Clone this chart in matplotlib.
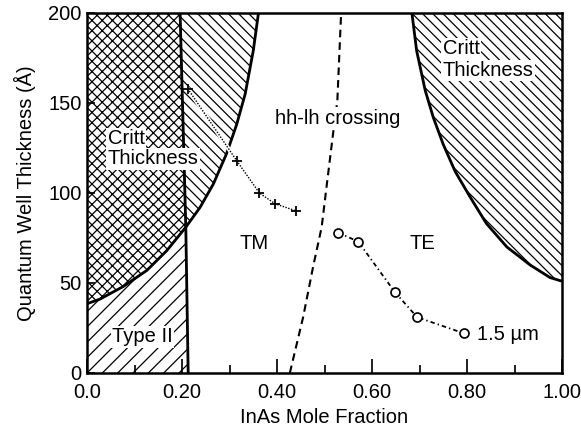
import matplotlib
matplotlib.use("Agg")
import matplotlib.pyplot as plt

DPI = 92


def px(v):
    """Convert a size in output pixels to points."""
    return v * 72.0 / DPI


plt.rcParams['font.family'] = ['Liberation Sans', 'DejaVu Sans']
plt.rcParams['hatch.linewidth'] = px(1.25)
plt.rcParams['lines.scale_dashes'] = False

# Critical thickness, tensile side (In-poor)
left_crit_x = [0.0, 0.027, 0.076, 0.126, 0.168, 0.208, 0.238, 0.266, 0.294, 0.315, 0.333, 0.350, 0.361]
left_crit_y = [38.5, 41, 48, 57, 68, 81, 92, 105, 122, 138, 155, 179, 200]

# Type II / critical-thickness boundary line
boundary_x = [0.196, 0.208, 0.213]
boundary_y = [200, 81, 0]

# Critical thickness, compressive side (In-rich)
right_crit_x = [0.684, 0.694, 0.712, 0.729, 0.750, 0.775, 0.806, 0.841, 0.884, 0.933, 0.975, 1.0]
right_crit_y = [200, 179, 157, 142, 127, 112, 98, 83, 70, 60, 53, 51]

# Heavy-hole / light-hole crossing
hhlh_x = [0.427, 0.455, 0.476, 0.494, 0.505, 0.519, 0.527, 0.535]
hhlh_y = [0, 31, 59, 81, 105, 135, 151, 200]

# 1.5 um designs, TM side (+) and TE side (o)
tm_x = [0.212, 0.315, 0.363, 0.396, 0.441]
tm_y = [158, 118, 100, 94, 90]
te_x = [0.529, 0.571, 0.648, 0.695, 0.794]
te_y = [78, 73, 45, 31, 22]

x_ticks = [0.0, 0.2, 0.4, 0.6, 0.8, 1.0]
x_ticklabels = ['0.0', '0.20', '0.40', '0.60', '0.80', '1.00']
y_ticks = [0, 50, 100, 150, 200]

fig = plt.figure(figsize=(581 / DPI, 430 / DPI), dpi=DPI)
ax = fig.add_axes([87 / 581, 1 - 373 / 430, 475 / 581, 360 / 430])
ax.set_xlim(0, 1)
ax.set_ylim(0, 200)

# junction of the boundary line with the tensile critical-thickness curve
j = left_crit_x.index(boundary_x[1])

# cross-hatched critical-thickness region left of the boundary
cross_x = [0.0, boundary_x[0]] + left_crit_x[j::-1]
cross_y = [200, boundary_y[0]] + left_crit_y[j::-1]
ax.fill(cross_x, cross_y, facecolor='white', edgecolor='black', hatch='xxx', linewidth=0, zorder=1)

# single-hatched critical-thickness region right of the boundary
lh_x = [boundary_x[0]] + left_crit_x[:j - 1:-1]
lh_y = [boundary_y[0]] + left_crit_y[:j - 1:-1]
ax.fill(lh_x, lh_y, facecolor='white', edgecolor='black', hatch='\\' * 3, linewidth=0, zorder=1)

# Type II region
t2_x = [0.0, boundary_x[2], boundary_x[1]] + left_crit_x[j - 1::-1]
t2_y = [0, boundary_y[2], boundary_y[1]] + left_crit_y[j - 1::-1]
ax.fill(t2_x, t2_y, facecolor='white', edgecolor='black', hatch='//', linewidth=0, zorder=1)

# compressive critical-thickness region
rc_x = right_crit_x + [1.0]
rc_y = right_crit_y + [200]
ax.fill(rc_x, rc_y, facecolor='white', edgecolor='black', hatch='\\' * 3, linewidth=0, zorder=1)

# boundary curves
for cx, cy in [(left_crit_x, left_crit_y), (right_crit_x, right_crit_y), (boundary_x, boundary_y)]:
    ax.plot(cx, cy, color='black', lw=px(2.8), zorder=3, solid_capstyle='butt')

# hh-lh crossing
ax.plot(hhlh_x, hhlh_y, color='black', lw=px(2.1), linestyle=(0, (px(7.6), px(5.0))), zorder=3)

# TM design points
ax.plot(tm_x, tm_y, color='white', lw=px(4.2), zorder=5)
ax.plot(tm_x, tm_y, color='black', lw=px(1.4), linestyle=(0, (px(1.4), px(1.5))), zorder=6)
ax.plot(tm_x, tm_y, linestyle='none', marker='+', ms=px(11), mew=px(1.8), color='black', zorder=7)

# TE design points
ax.plot(te_x, te_y, color='black', lw=px(1.8),
        linestyle=(0, (px(4.4), px(3.1), px(1.4), px(3.1))), zorder=6)
ax.plot(te_x, te_y, linestyle='none', marker='o', ms=px(9), mew=px(1.7),
        markerfacecolor='white', markeredgecolor='black', zorder=7)

box = dict(facecolor='white', edgecolor='none', pad=px(1.4))
fs = px(20.1)
ax.text(0.044, 127, 'Critt', fontsize=fs, ha='left', va='baseline', bbox=box, zorder=4)
ax.text(0.044, 116, 'Thickness', fontsize=fs, ha='left', va='baseline', bbox=box, zorder=4)
ax.text(0.749, 177, 'Critt', fontsize=fs, ha='left', va='baseline', bbox=box, zorder=4)
ax.text(0.749, 165, 'Thickness', fontsize=fs, ha='left', va='baseline', bbox=box, zorder=4)
ax.text(0.396, 138.5, 'hh-lh crossing', fontsize=fs, ha='left', va='baseline', bbox=box, zorder=4)
ax.text(0.322, 69, 'TM', fontsize=fs, ha='left', va='baseline', zorder=4)
ax.text(0.680, 69, 'TE', fontsize=fs, ha='left', va='baseline', zorder=4)
ax.text(0.821, 18.5, '1.5 µm', fontsize=fs, ha='left', va='baseline', zorder=4)
ax.text(0.053, 17, 'Type II', fontsize=fs, ha='left', va='baseline', bbox=box, zorder=4)

for s in ax.spines.values():
    s.set_linewidth(px(2.5))
    s.set_zorder(8)

ax.set_xticks(x_ticks)
ax.set_xticklabels(x_ticklabels)
ax.set_xticks([0.1, 0.3, 0.5, 0.7, 0.9], minor=True)
ax.set_yticks(y_ticks)
ax.tick_params(axis='x', which='major', direction='in', length=px(13.9), width=px(1.7),
               pad=px(10.4), labelsize=fs)
ax.tick_params(axis='x', which='minor', direction='in', length=px(8.3), width=px(1.7))
ax.tick_params(axis='y', which='major', direction='in', length=px(8.3), width=px(1.7),
               pad=px(5.6), labelsize=fs)

ax.set_xlabel('InAs Mole Fraction', fontsize=fs, labelpad=px(5.6))
ax.set_ylabel('Quantum Well Thickness (Å)', fontsize=fs, labelpad=px(12.5))

fig.savefig('out.png', dpi=DPI)
